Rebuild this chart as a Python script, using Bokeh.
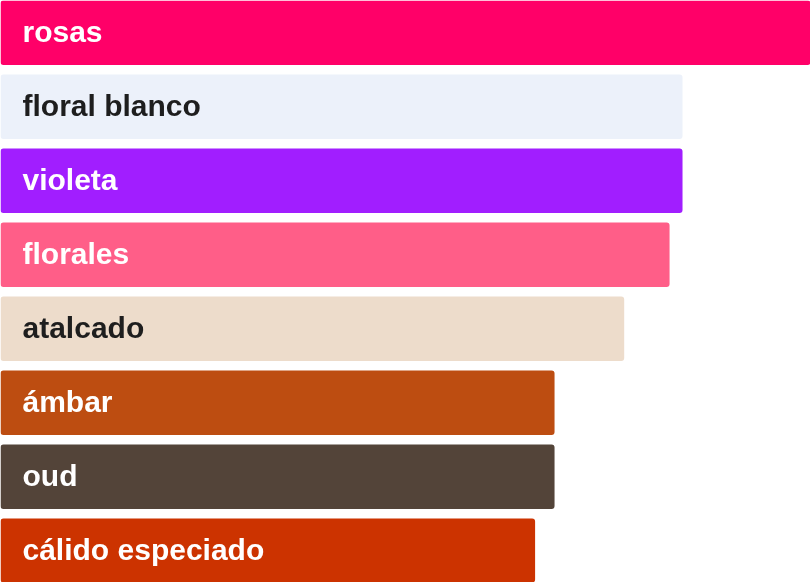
from bokeh.plotting import figure
from bokeh.models import ColumnDataSource, Range1d
from bokeh.core.properties import value
from bokeh.embed import file_html
from bokeh.resources import INLINE

labels = ["rosas", "floral blanco", "violeta", "florales", "atalcado", "ámbar", "oud", "cálido especiado"]
values = [100, 84.2, 84.2, 82.6, 77.0, 68.4, 68.4, 66.0]
colors = ["#FF0068", "#ECF1FA", "#A11EFF", "#FF5E88", "#EDDCCB", "#BD4D11", "#534439", "#CC3300"]
text_colors = ["#FFFFFF", "#1E1E1E", "#FFFFFF", "#FFFFFF", "#1E1E1E", "#FFFFFF", "#FFFFFF", "#FFFFFF"]

W, H = 810, 582
n = len(labels)
step_px = 74.0
bar_px = 64.5
units = H / step_px
top = -bar_px / step_px / 2

src = ColumnDataSource(dict(
    y=list(range(n)), right=values, label=labels, color=colors, tcolor=text_colors,
))

p = figure(width=W, height=H, output_backend="svg", toolbar_location=None,
           x_range=Range1d(0, 100), y_range=Range1d(top + units, top),
           min_border=0, min_border_left=0, min_border_right=0,
           min_border_top=0, min_border_bottom=0, outline_line_color=None)
p.styles = {"position": "fixed", "left": "0px", "top": "0px"}
p.axis.visible = False
p.grid.visible = False
p.background_fill_color = "white"
p.border_fill_color = "white"

p.hbar(y="y", left=0, right="right", height=bar_px / step_px, color="color",
       line_color=None, border_radius=3, source=src)
p.text(x=0, y="y", text="label", text_color="tcolor", source=src,
       text_font=value("Liberation Sans"), text_font_style="bold",
       text_font_size="30px", text_baseline="middle", text_align="left",
       x_offset=22, y_offset=-1.5)

open("out.html", "w").write(file_html(p, INLINE))
